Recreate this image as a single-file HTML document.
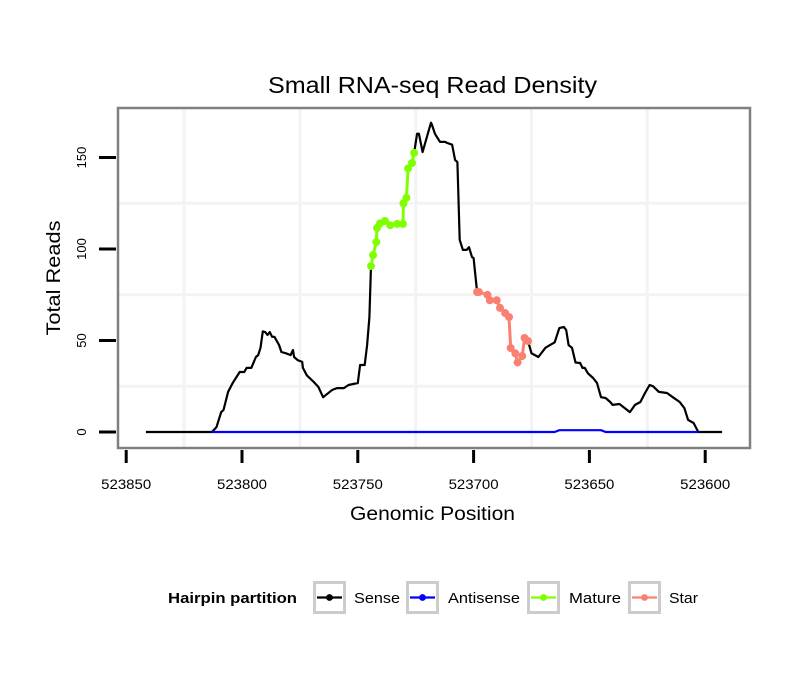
<!DOCTYPE html>
<html><head><meta charset="utf-8"><style>
body{margin:0;background:#fff}
svg text{font-family:"Liberation Sans",sans-serif}
</style></head><body>
<svg id="chart" width="810" height="690" xmlns="http://www.w3.org/2000/svg">
<text x="432.5" y="93" font-size="23" text-anchor="middle" textLength="329" lengthAdjust="spacingAndGlyphs">Small RNA-seq Read Density</text>
<g id="plot"></g>
</svg>
<script>
const xTicks=[523850,523800,523750,523700,523650,523600];
const xMinor=[523825,523775,523725,523675,523625];
const yTicks=[0,50,100,150];
const yMinor=[25,75,125];
const sensePos=[523841.5,523813,523811,523809,523808,523806,523804,523801,523799,523798,523796,523794,523793,523792,523791,523790,523789,523788,523787,523786,523784,523783,523781,523779,523778,523777.5,523776,523774,523773.7,523772,523769,523767,523765,523764,523762,523761,523759,523756,523754,523750,523749,523747,523746,523745,523744.3,523743.4,523742,523741.7,523740.4,523738.3,523736,523733,523730.5,523730.3,523729,523728.3,523726.6,523725.7,523724.4,523723.6,523722,523720,523718.4,523718,523716.7,523714.5,523712.3,523711.5,523709.3,523708,523707,523706,523704.6,523703,523702,523700.7,523700,523698.5,523697.7,523694,523693,523690,523688.6,523686.4,523684.7,523684,523682,523681,523679,523678,523676.5,523675,523672,523669,523667,523665,523663,523661,523660,523659,523657.5,523656,523654,523653,523652,523650.6,523648.4,523646.7,523645,523643,523641,523640,523637,523632.5,523630.3,523628,523626,523624,523622.5,523620,523616.5,523614,523611,523609,523607.4,523605,523603,523592.7];
const senseVal=[0,0,2.7,10.9,12,21.9,26.8,32.8,32.8,35,35,41,42,46,55,54.6,53,54.6,52,52,47.5,43.7,43,42,44.8,41,39.3,38.3,35,31,27.3,24.6,19,20,22,23,24,24,25.7,26.8,36.6,36.6,47.5,62.8,90.7,96.7,103.8,111.5,114,115.3,113,113.7,113.7,125,128,144,147,152.5,163,163,153,162,169,168,163,158.5,158.5,158,157,148.6,147.5,105,99.5,99.5,101,95.6,95,76.5,76.5,74.9,72,72,67.8,65,62.8,45.9,43,38,41.5,51.4,49.7,43,41,46,47.5,49,56.8,57.4,55.7,47.5,46,38,37.7,35,35,32,29.5,26.8,19,18.6,16.4,14.8,15.3,10.9,14.8,16.4,21.3,25.7,25,21.9,21.3,19,16.4,13,6.6,4.9,0,0];
const antiPos=[523813,523665,523663,523645,523643,523603];
const antiVal=[0,0,1,1,0,0];
const maturePos=[523744.3,523743.4,523742,523741.7,523740.4,523738.3,523736,523733,523730.5,523730.3,523729,523728.3,523726.6,523725.7];
const matureVal=[90.7,96.7,103.8,111.5,114,115.3,113,113.7,113.7,125,128,144,147,152.5];
const starPos=[523698.5,523697.7,523694,523693,523690,523688.6,523686.4,523684.7,523684,523682,523681,523679,523678,523676.5];
const starVal=[76.5,76.5,74.9,72,72,67.8,65,62.8,45.9,43,38,41.5,51.4,49.7];

const NS='http://www.w3.org/2000/svg';
const g=document.getElementById('plot');
const X=v=>242+(523800-v)*2.316;
const Y=v=>432-v*1.83;
function mk(t,a,p){const e=document.createElementNS(NS,t);for(const k in a)e.setAttribute(k,a[k]);(p||g).appendChild(e);return e;}

const bg=mk('rect',{x:118,y:108,width:632,height:340,fill:'#fff'});


xMinor.forEach(v=>{const l=mk('line',{x1:X(v),x2:X(v),y1:109,y2:447,stroke:'#f3f3f3','stroke-width':3});

});
yMinor.forEach(v=>{const l=mk('line',{x1:119,x2:749,y1:Y(v),y2:Y(v),stroke:'#f3f3f3','stroke-width':3});

});

function line(P,V,col,name,w){const d=P.map((p,i)=>(i?'L':'M')+X(p).toFixed(1)+','+Y(V[i]).toFixed(1)).join('');
const e=mk('path',{d:d,fill:'none',stroke:col,'stroke-width':w||2.2,'stroke-linejoin':'round'});

}
line(sensePos,senseVal,'#000','sense-line');
line(antiPos,antiVal,'#0000ff','antisense-line');
function pts(P,V,col,name){line(P,V,col,name+'-line',3);P.forEach((p,i)=>{const c=mk('circle',{cx:X(p),cy:Y(V[i]),r:4,fill:col});

});}
pts(maturePos,matureVal,'#7fff00','mature');
pts(starPos,starVal,'#fa8072','star');

const border=mk('rect',{x:118,y:108,width:632,height:340,fill:'none',stroke:'#808080','stroke-width':2.5});



xTicks.forEach(v=>{const t=mk('line',{x1:X(v),x2:X(v),y1:450,y2:463,stroke:'#000','stroke-width':3});


const l=mk('text',{x:X(v),y:489,'font-size':14,'text-anchor':'middle',textLength:50,lengthAdjust:'spacingAndGlyphs'});l.textContent=v;

});
yTicks.forEach(v=>{const t=mk('line',{x1:99,x2:116,y1:Y(v),y2:Y(v),stroke:'#000','stroke-width':3});


const l=mk('text',{x:0,y:0,'font-size':13,'text-anchor':'middle',transform:`translate(86,${Y(v)}) rotate(-90)`});l.textContent=v;

});

const xt=mk('text',{x:432.5,y:520,'font-size':19,'text-anchor':'middle',textLength:165,lengthAdjust:'spacingAndGlyphs'});xt.textContent='Genomic Position';


const yt=mk('text',{x:0,y:0,'font-size':19,'text-anchor':'middle',textLength:115,lengthAdjust:'spacingAndGlyphs',transform:'translate(60,278) rotate(-90)'});yt.textContent='Total Reads';



const lt=mk('text',{x:168,y:603,'font-size':15,'font-weight':'bold',textLength:129,lengthAdjust:'spacingAndGlyphs'});lt.textContent='Hairpin partition';


const legend=[['Sense','#000',313,354,46],['Antisense','#0000ff',406,448,72],['Mature','#7fff00',527,569,52],['Star','#fa8072',628,669,29]];
legend.forEach(([n,c,x,tx,w])=>{const b=mk('rect',{x:x+1.5,y:582.5,width:30,height:30,fill:'#fff',stroke:'#cccccc','stroke-width':3});


const l=mk('line',{x1:x+4,x2:x+29,y1:597.5,y2:597.5,stroke:c,'stroke-width':2.2});


const d=mk('circle',{cx:x+16.5,cy:597.5,r:3.4,fill:c});


const t=mk('text',{x:tx,y:603,'font-size':15,textLength:w,lengthAdjust:'spacingAndGlyphs'});t.textContent=n;

});
</script>
</body></html>
